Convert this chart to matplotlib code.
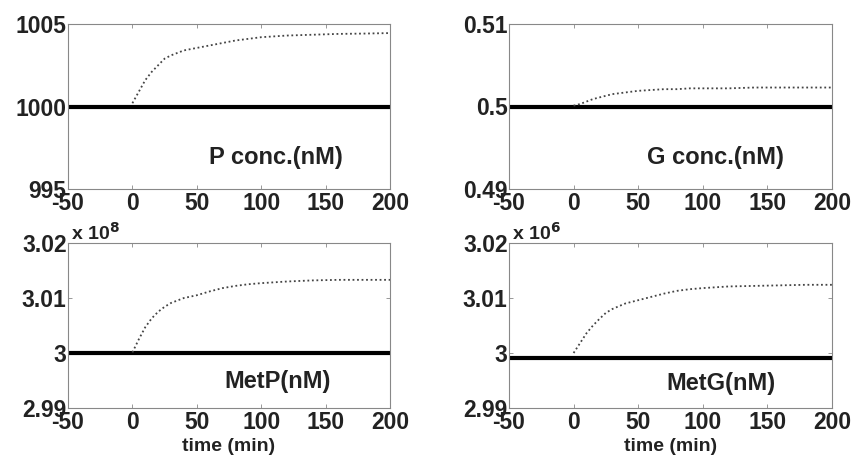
import numpy as np
import matplotlib.pyplot as plt

plt.rcParams['font.family'] = ['Liberation Sans', 'DejaVu Sans']
plt.rcParams['font.weight'] = 'bold'

# tiempos de muestreo (min)
t = [0, 5, 10, 15, 20, 25, 30, 40, 50, 60, 70, 80, 90, 100, 120, 140, 160, 180, 200]

# curvas punteadas
p_conc = [1000.2, 1000.9, 1001.6, 1002.1, 1002.5, 1002.9, 1003.1, 1003.4, 1003.55,
          1003.7, 1003.85, 1004.0, 1004.1, 1004.2, 1004.3, 1004.35, 1004.4, 1004.42, 1004.45]
g_conc = [0.5001, 0.5003, 0.5006, 0.5009, 0.5011, 0.5013, 0.5015, 0.5017, 0.5019,
          0.5020, 0.5021, 0.5021, 0.5022, 0.5022, 0.5022, 0.5023, 0.5023, 0.5023, 0.5023]
met_p = [3.0001, 3.0025, 3.0047, 3.0063, 3.0075, 3.0084, 3.0091, 3.0100, 3.0105,
         3.0112, 3.0118, 3.0122, 3.0125, 3.0127, 3.0130, 3.0132, 3.0133, 3.0133, 3.0133]
met_g = [3.0000, 3.0018, 3.0036, 3.0050, 3.0062, 3.0073, 3.0080, 3.0090, 3.0096,
         3.0102, 3.0108, 3.0113, 3.0116, 3.0118, 3.0121, 3.0122, 3.0123, 3.0124, 3.0124]

# lineas base (solidas)
t_base = [-50, 200]
p_base = [1000.0, 1000.0]
g_base = [0.5, 0.5]
met_p_base = [3.0, 3.0]
met_g_base = [2.9991, 2.9991]

paneles = [
    (t, p_conc, p_base, (995, 1005), [995, 1000, 1005], ['995', '1000', '1005'], 'P conc.(nM)', None),
    (t, g_conc, g_base, (0.49, 0.51), [0.49, 0.5, 0.51], ['0.49', '0.5', '0.51'], 'G conc.(nM)', None),
    (t, met_p, met_p_base, (2.99, 3.02), [2.99, 3.0, 3.01, 3.02], ['2.99', '3', '3.01', '3.02'], 'MetP(nM)', '8'),
    (t, met_g, met_g_base, (2.99, 3.02), [2.99, 3.0, 3.01, 3.02], ['2.99', '3', '3.01', '3.02'], 'MetG(nM)', '6'),
]

# posiciones en pixeles (izq, abajo, ancho, alto) sobre 853x461
W, H = 853, 461
cajas = [(68, 461 - 189, 322, 165), (509, 461 - 189, 323, 165),
         (68, 461 - 408, 322, 165), (509, 461 - 408, 323, 165)]
label_pos = [(0.645, 0.19), (0.64, 0.19), (0.65, 0.16), (0.657, 0.15)]

fig = plt.figure(figsize=(W / 100, H / 100), dpi=100)

for i, (tt, y, yb, ylim, yt, ytl, nombre, expo) in enumerate(paneles):
    l, b, w, h = cajas[i]
    ax = fig.add_axes([l / W, b / H, w / W, h / H])
    ax.plot(t_base, yb, color='black', lw=3.0)
    ax.plot(tt, y, color='#444444', lw=1.3, ls=(0, (1, 1.5)))
    ax.set_xlim(-50, 200)
    ax.set_ylim(*ylim)
    ax.set_xticks([-50, 0, 50, 100, 150, 200])
    ax.set_xticklabels(['-50', '0', '50', '100', '150', '200'], fontsize=16.5, fontweight='bold')
    ax.set_yticks(yt)
    ax.set_yticklabels(ytl, fontsize=16.5, fontweight='bold')
    ax.tick_params(direction='in', length=3, width=0.6, top=True, right=True,
                   colors='#888888', labelcolor='#222222')
    ax.tick_params(axis='x', pad=2)
    ax.tick_params(axis='y', pad=1)
    for s in ax.spines.values():
        s.set_color('#888888')
        s.set_linewidth(0.8)
    ax.text(label_pos[i][0], label_pos[i][1], nombre, transform=ax.transAxes,
            ha='center', va='center', fontsize=17, fontweight='bold', color='#222222')
    if expo is not None:
        ax.text(0.01, 0.995, r'x 10$^{%s}$' % expo, transform=ax.transAxes,
                ha='left', va='bottom', fontsize=14, fontweight='bold', color='#222222')
        ax.set_xlabel('time (min)', fontsize=14, fontweight='bold', color='#222222', labelpad=3)

fig.savefig('out.png', dpi=100)
